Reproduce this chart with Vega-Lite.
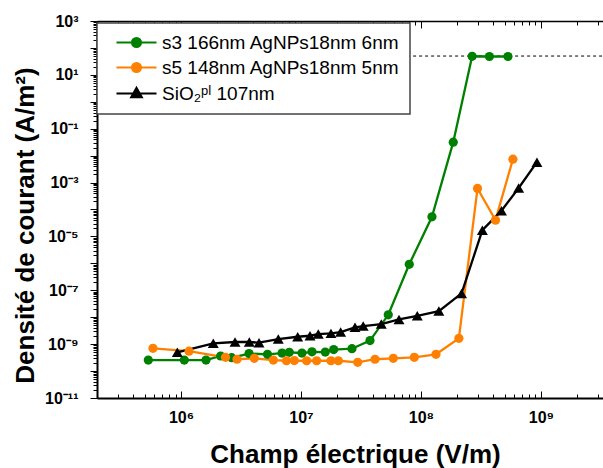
{
  "$schema": "https://vega.github.io/schema/vega-lite/v6.json",
  "width": 506,
  "height": 377,
  "autosize": {"type": "none"},
  "padding": {"left": 97, "top": 21, "right": 0, "bottom": 70},
  "config": {
    "view": {"stroke": null},
    "font": "Liberation Sans",
    "axis": {"grid": false, "domainColor": "black", "tickColor": "black", "labelColor": "black", "titleColor": "black", "labelFont": "Liberation Sans", "titleFont": "Liberation Sans"},
    "legend": {
      "title": null, "orient": "none", "legendX": 0, "legendY": 2,
      "fillColor": "white", "strokeColor": "#444444", "padding": 10,
      "labelFontSize": 19, "labelFont": "Liberation Sans", "labelColor": "black", "labelLimit": 400,
      "symbolSize": 178, "symbolStrokeWidth": 2, "symbolOffset": 20, "labelOffset": 16, "rowPadding": 5
    }
  },
  "datasets": {
    "curves": [
      {"series": "s3 166nm AgNPs18nm 6nm", "E": 534000, "J": 2.57e-10},
      {"series": "s3 166nm AgNPs18nm 6nm", "E": 1065000, "J": 2.57e-10},
      {"series": "s3 166nm AgNPs18nm 6nm", "E": 1616000, "J": 2.57e-10},
      {"series": "s3 166nm AgNPs18nm 6nm", "E": 2140000, "J": 3.63e-10},
      {"series": "s3 166nm AgNPs18nm 6nm", "E": 2645000, "J": 3.13e-10},
      {"series": "s3 166nm AgNPs18nm 6nm", "E": 3690000, "J": 4.48e-10},
      {"series": "s3 166nm AgNPs18nm 6nm", "E": 5260000, "J": 4.19e-10},
      {"series": "s3 166nm AgNPs18nm 6nm", "E": 6950000, "J": 4.68e-10},
      {"series": "s3 166nm AgNPs18nm 6nm", "E": 7990000, "J": 4.97e-10},
      {"series": "s3 166nm AgNPs18nm 6nm", "E": 10190000, "J": 4.68e-10},
      {"series": "s3 166nm AgNPs18nm 6nm", "E": 12350000, "J": 5.18e-10},
      {"series": "s3 166nm AgNPs18nm 6nm", "E": 15940000, "J": 5.09e-10},
      {"series": "s3 166nm AgNPs18nm 6nm", "E": 18730000, "J": 6.31e-10},
      {"series": "s3 166nm AgNPs18nm 6nm", "E": 26600000, "J": 6.76e-10},
      {"series": "s3 166nm AgNPs18nm 6nm", "E": 37600000, "J": 1.36e-9},
      {"series": "s3 166nm AgNPs18nm 6nm", "E": 53400000, "J": 1.23e-8},
      {"series": "s3 166nm AgNPs18nm 6nm", "E": 79900000, "J": 9.23e-7},
      {"series": "s3 166nm AgNPs18nm 6nm", "E": 123500000, "J": 5.33e-5},
      {"series": "s3 166nm AgNPs18nm 6nm", "E": 185800000, "J": 0.0316},
      {"series": "s3 166nm AgNPs18nm 6nm", "E": 267000000, "J": 49},
      {"series": "s3 166nm AgNPs18nm 6nm", "E": 372000000, "J": 48},
      {"series": "s3 166nm AgNPs18nm 6nm", "E": 531000000, "J": 48},
      {"series": "s5 148nm AgNPs18nm 5nm", "E": 584000, "J": 6.98e-10},
      {"series": "s5 148nm AgNPs18nm 5nm", "E": 1166000, "J": 5.46e-10},
      {"series": "s5 148nm AgNPs18nm 5nm", "E": 2350000, "J": 3.24e-10},
      {"series": "s5 148nm AgNPs18nm 5nm", "E": 2930000, "J": 2.75e-10},
      {"series": "s5 148nm AgNPs18nm 5nm", "E": 4080000, "J": 2.97e-10},
      {"series": "s5 148nm AgNPs18nm 5nm", "E": 5880000, "J": 2.57e-10},
      {"series": "s5 148nm AgNPs18nm 5nm", "E": 7570000, "J": 2.42e-10},
      {"series": "s5 148nm AgNPs18nm 5nm", "E": 8800000, "J": 2.45e-10},
      {"series": "s5 148nm AgNPs18nm 5nm", "E": 11150000, "J": 2.42e-10},
      {"series": "s5 148nm AgNPs18nm 5nm", "E": 13510000, "J": 2.42e-10},
      {"series": "s5 148nm AgNPs18nm 5nm", "E": 17780000, "J": 2.42e-10},
      {"series": "s5 148nm AgNPs18nm 5nm", "E": 20500000, "J": 2.42e-10},
      {"series": "s5 148nm AgNPs18nm 5nm", "E": 29700000, "J": 2.11e-10},
      {"series": "s5 148nm AgNPs18nm 5nm", "E": 41400000, "J": 2.75e-10},
      {"series": "s5 148nm AgNPs18nm 5nm", "E": 58800000, "J": 2.97e-10},
      {"series": "s5 148nm AgNPs18nm 5nm", "E": 88000000, "J": 3.24e-10},
      {"series": "s5 148nm AgNPs18nm 5nm", "E": 133400000, "J": 4.19e-10},
      {"series": "s5 148nm AgNPs18nm 5nm", "E": 207000000, "J": 1.64e-9},
      {"series": "s5 148nm AgNPs18nm 5nm", "E": 296000000, "J": 0.000604},
      {"series": "s5 148nm AgNPs18nm 5nm", "E": 418000000, "J": 4.03e-5},
      {"series": "s5 148nm AgNPs18nm 5nm", "E": 584000000, "J": 0.00738},
      {"series": "SiO₂ᵖˡ 107nm", "E": 932000, "J": 4.97e-10},
      {"series": "SiO₂ᵖˡ 107nm", "E": 1858000, "J": 1.07e-9},
      {"series": "SiO₂ᵖˡ 107nm", "E": 2820000, "J": 1.2e-9},
      {"series": "SiO₂ᵖˡ 107nm", "E": 3710000, "J": 1.2e-9},
      {"series": "SiO₂ᵖˡ 107nm", "E": 4470000, "J": 1.13e-9},
      {"series": "SiO₂ᵖˡ 107nm", "E": 6470000, "J": 1.55e-9},
      {"series": "SiO₂ᵖˡ 107nm", "E": 9390000, "J": 1.88e-9},
      {"series": "SiO₂ᵖˡ 107nm", "E": 11890000, "J": 2.05e-9},
      {"series": "SiO₂ᵖˡ 107nm", "E": 13940000, "J": 2.37e-9},
      {"series": "SiO₂ᵖˡ 107nm", "E": 17780000, "J": 2.51e-9},
      {"series": "SiO₂ᵖˡ 107nm", "E": 21400000, "J": 2.81e-9},
      {"series": "SiO₂ᵖˡ 107nm", "E": 28200000, "J": 4.2e-9},
      {"series": "SiO₂ᵖˡ 107nm", "E": 33000000, "J": 4.7e-9},
      {"series": "SiO₂ᵖˡ 107nm", "E": 46700000, "J": 5.57e-9},
      {"series": "SiO₂ᵖˡ 107nm", "E": 65600000, "J": 8.3e-9},
      {"series": "SiO₂ᵖˡ 107nm", "E": 93200000, "J": 1.13e-8},
      {"series": "SiO₂ᵖˡ 107nm", "E": 141000000, "J": 1.69e-8},
      {"series": "SiO₂ᵖˡ 107nm", "E": 218000000, "J": 7.67e-8},
      {"series": "SiO₂ᵖˡ 107nm", "E": 325000000, "J": 1.71e-5},
      {"series": "SiO₂ᵖˡ 107nm", "E": 469000000, "J": 9.06e-5},
      {"series": "SiO₂ᵖˡ 107nm", "E": 652000000, "J": 0.00063},
      {"series": "SiO₂ᵖˡ 107nm", "E": 926000000, "J": 0.00571}
    ],
    "limit": [{"x": 86000000, "x2": 3290000000, "y": 50}]
  },
  "layer": [
    {
      "data": {"name": "limit"},
      "mark": {"type": "rule", "strokeDash": [3, 3], "strokeWidth": 1, "color": "black"},
      "encoding": {
        "x": {
          "field": "x", "type": "quantitative",
          "scale": {"type": "log", "domain": [199500, 3290000000], "nice": false},
          "axis": {
            "orient": "top", "title": null, "labels": false, "domainWidth": 1.5,
            "values": [200000,300000,400000,500000,600000,700000,800000,900000,1000000,2000000,3000000,4000000,5000000,6000000,7000000,8000000,9000000,10000000,20000000,30000000,40000000,50000000,60000000,70000000,80000000,90000000,100000000,200000000,300000000,400000000,500000000,600000000,700000000,800000000,900000000,1000000000,2000000000,3000000000],
            "tickSize": {"condition": {"test": "abs(log(datum.value)/LN10 - round(log(datum.value)/LN10)) < 1e-6", "value": -7}, "value": -4}
          }
        },
        "x2": {"field": "x2"},
        "y": {"field": "y", "type": "quantitative", "scale": {"type": "log", "domain": [1e-11, 1000], "nice": false}, "axis": null}
      }
    },
    {
      "data": {"name": "curves"},
      "mark": {"type": "line", "strokeWidth": 2.3},
      "encoding": {
        "x": {
          "field": "E", "type": "quantitative",
          "scale": {"type": "log", "domain": [199500, 3290000000], "nice": false},
          "axis": {
            "orient": "bottom", "title": "Champ électrique (V/m)", "titleFontSize": 26, "titleFontWeight": "bold",
            "titleX": 258, "titleAlign": "center", "titleY": 56, "titleBaseline": "middle",
            "domainWidth": 2, "labelFontSize": 16, "labelFontWeight": "bold", "labelPadding": 18, "labelOverlap": false, "labelFlush": false,
            "values": [200000,300000,400000,500000,600000,700000,800000,900000,1000000,2000000,3000000,4000000,5000000,6000000,7000000,8000000,9000000,10000000,20000000,30000000,40000000,50000000,60000000,70000000,80000000,90000000,100000000,200000000,300000000,400000000,500000000,600000000,700000000,800000000,900000000,1000000000,2000000000,3000000000],
            "tickSize": {"condition": {"test": "abs(log(datum.value)/LN10 - round(log(datum.value)/LN10)) < 1e-6", "value": -7}, "value": -4},
            "labelExpr": "abs(log(datum.value)/LN10 - round(log(datum.value)/LN10)) < 1e-6 ? '10' + replace(replace(replace(replace(toString(round(log(datum.value)/LN10)), regexp('6','g'), '⁶'), regexp('7','g'), '⁷'), regexp('8','g'), '⁸'), regexp('9','g'), '⁹') : ''"
          }
        },
        "y": {
          "field": "J", "type": "quantitative",
          "scale": {"type": "log", "domain": [1e-11, 1000], "nice": false},
          "axis": {
            "orient": "left", "title": "Densité de courant (A/m²)", "titleFontSize": 26, "titleFontWeight": "bold",
            "titleX": -72, "titleY": 204, "titleBaseline": "middle", "titleAngle": -90, "titleAlign": "center",
            "domainWidth": 2, "labelFontSize": 16, "labelFontWeight": "bold", "labelPadding": 12, "labelOverlap": false, "labelFlush": false,
            "values": [1e-11,2e-11,3e-11,4e-11,5e-11,6e-11,7e-11,8e-11,9e-11,1e-10,2e-10,3e-10,4e-10,5e-10,6e-10,7e-10,8e-10,9e-10,1e-9,2e-9,3e-9,4e-9,5e-9,6e-9,7e-9,8e-9,9e-9,1e-8,2e-8,3e-8,4e-8,5e-8,6e-8,7e-8,8e-8,9e-8,1e-7,2e-7,3e-7,4e-7,5e-7,6e-7,7e-7,8e-7,9e-7,1e-6,2e-6,3e-6,4e-6,5e-6,6e-6,7e-6,8e-6,9e-6,1e-5,2e-5,3e-5,4e-5,5e-5,6e-5,7e-5,8e-5,9e-5,1e-4,2e-4,3e-4,4e-4,5e-4,6e-4,7e-4,8e-4,9e-4,0.001,0.002,0.003,0.004,0.005,0.006,0.007,0.008,0.009,0.01,0.02,0.03,0.04,0.05,0.06,0.07,0.08,0.09,0.1,0.2,0.3,0.4,0.5,0.6,0.7,0.8,0.9,1,2,3,4,5,6,7,8,9,10,20,30,40,50,60,70,80,90,100,200,300,400,500,600,700,800,900,1000],
            "tickSize": {"condition": {"test": "abs(log(datum.value)/LN10 - round(log(datum.value)/LN10)) < 1e-6", "value": 7}, "value": 4},
            "labelExpr": "(abs(log(datum.value)/LN10 - round(log(datum.value)/LN10)) < 1e-6 && round(log(datum.value)/LN10) % 2 != 0) ? '10' + replace(replace(replace(replace(replace(replace(toString(round(log(datum.value)/LN10)), regexp('-','g'), '⁻'), regexp('1','g'), '¹'), regexp('3','g'), '³'), regexp('5','g'), '⁵'), regexp('7','g'), '⁷'), regexp('9','g'), '⁹') : ''"
          }
        },
        "color": {
          "field": "series", "type": "nominal",
          "scale": {"domain": ["s3 166nm AgNPs18nm 6nm", "s5 148nm AgNPs18nm 5nm", "SiO₂ᵖˡ 107nm"], "range": ["#008000", "#ff8000", "#000000"]},
          "legend": {
            "encode": {
              "legend": {"update": {"strokeWidth": {"value": 1.5}}},
              "symbols": {"update": {
                "shape": {"signal": "datum.value == 'SiO₂ᵖˡ 107nm' ? 'M-3,0L3,0M0,-0.85L0.8,0.55L-0.8,0.55Z' : 'M-3,0L3,0M-0.68,0A0.68,0.68 0 1,1 0.68,0A0.68,0.68 0 1,1 -0.68,0Z'"},
                "fill": {"signal": "scale('color', datum.value)"},
                "stroke": {"signal": "scale('color', datum.value)"},
                "strokeWidth": {"value": 2},
                "opacity": {"value": 1}
              }}
            }
          }
        }
      }
    },
    {
      "data": {"name": "curves"},
      "transform": [{"filter": "datum.series != 'SiO₂ᵖˡ 107nm'"}],
      "mark": {"type": "point", "filled": true, "opacity": 1, "shape": "circle", "size": 85},
      "encoding": {
        "x": {"field": "E", "type": "quantitative", "scale": {"type": "log", "domain": [199500, 3290000000], "nice": false}, "axis": null},
        "y": {"field": "J", "type": "quantitative", "scale": {"type": "log", "domain": [1e-11, 1000], "nice": false}, "axis": null},
        "color": {
          "field": "series", "type": "nominal",
          "scale": {"domain": ["s3 166nm AgNPs18nm 6nm", "s5 148nm AgNPs18nm 5nm", "SiO₂ᵖˡ 107nm"], "range": ["#008000", "#ff8000", "#000000"]}
        }
      }
    },
    {
      "data": {"name": "curves"},
      "transform": [{"filter": "datum.series == 'SiO₂ᵖˡ 107nm'"}],
      "mark": {"type": "point", "filled": true, "opacity": 1, "shape": "triangle-up", "size": 120},
      "encoding": {
        "x": {"field": "E", "type": "quantitative", "scale": {"type": "log", "domain": [199500, 3290000000], "nice": false}, "axis": null},
        "y": {"field": "J", "type": "quantitative", "scale": {"type": "log", "domain": [1e-11, 1000], "nice": false}, "axis": null},
        "color": {
          "field": "series", "type": "nominal",
          "scale": {"domain": ["s3 166nm AgNPs18nm 6nm", "s5 148nm AgNPs18nm 5nm", "SiO₂ᵖˡ 107nm"], "range": ["#008000", "#ff8000", "#000000"]}
        }
      }
    }
  ],
  "resolve": {"axis": {"x": "independent", "y": "independent"}}
}
